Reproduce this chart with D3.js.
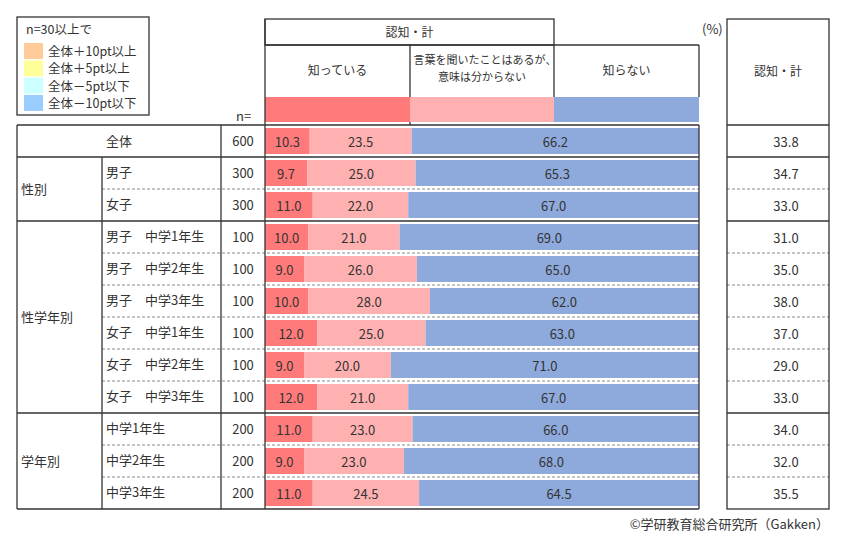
<!DOCTYPE html>
<html>
<head>
<meta charset="utf-8">
<script src="https://cdn.jsdelivr.net/npm/d3@7"></script>
<style>
  body { margin: 0; background: #fff; }
  text { font-family: "Noto Sans CJK JP", "Noto Sans", sans-serif; fill: #333; }
</style>
</head>
<body>
<div id="chart"></div>
<script>
// data
var rowLabels = ["全体", "男子", "女子", "男子　中学1年生", "男子　中学2年生", "男子　中学3年生",
  "女子　中学1年生", "女子　中学2年生", "女子　中学3年生", "中学1年生", "中学2年生", "中学3年生"];
var nValues = [600, 300, 300, 100, 100, 100, 100, 100, 100, 200, 200, 200];
var knowVals = [10.3, 9.7, 11.0, 10.0, 9.0, 10.0, 12.0, 9.0, 12.0, 11.0, 9.0, 11.0];
var heardVals = [23.5, 25.0, 22.0, 21.0, 26.0, 28.0, 25.0, 20.0, 21.0, 23.0, 23.0, 24.5];
var unknownVals = [66.2, 65.3, 67.0, 69.0, 65.0, 62.0, 63.0, 71.0, 67.0, 66.0, 68.0, 64.5];
var totalVals = [33.8, 34.7, 33.0, 31.0, 35.0, 38.0, 37.0, 29.0, 33.0, 34.0, 32.0, 35.5];
var groups = [
  {name: "全体", start: 0, end: 0},
  {name: "性別", start: 1, end: 2},
  {name: "性学年別", start: 3, end: 8},
  {name: "学年別", start: 9, end: 11}
];
var seriesNames = ["知っている", "言葉を聞いたことはあるが、\n意味は分からない", "知らない"];
var legendLabels = ["全体＋10pt以上", "全体＋5pt以上", "全体－5pt以下", "全体－10pt以下"];
var legendColors = ["#ffcc99", "#ffff99", "#ccffff", "#99ccff"];
var colors = ["#ff7b7b", "#ffb1b1", "#8eaadc"];

var svg = d3.select("#chart").append("svg")
  .attr("width", 857)
  .attr("height", 538);

var x = d3.scaleLinear().domain([0, 100]).range([265, 699]);
var y = d3.scaleBand().domain(d3.range(rowLabels.length)).range([125, 509]);
var bh = y.bandwidth();

var lineColor = "#333";
var dashColor = "#8a8a8a";

function hline(x1, x2, yy, dashed) {
  svg.append("line")
    .attr("x1", x1).attr("x2", x2).attr("y1", yy).attr("y2", yy)
    .attr("stroke", dashed ? dashColor : lineColor)
    .attr("stroke-width", dashed ? 1 : 1.3)
    .attr("stroke-dasharray", dashed ? "3,2" : null);
}
function vline(xx, y1, y2) {
  svg.append("line")
    .attr("x1", xx).attr("x2", xx).attr("y1", y1).attr("y2", y2)
    .attr("stroke", lineColor).attr("stroke-width", 1.3);
}

// legend box
svg.append("rect")
  .attr("x", 17).attr("y", 17).attr("width", 132).attr("height", 98)
  .attr("fill", "none").attr("stroke", lineColor).attr("stroke-width", 1.3);
svg.append("text").attr("x", 26).attr("y", 34).attr("font-size", 12.5).text("n=30以上で");
legendLabels.forEach(function(d, i) {
  svg.append("rect")
    .attr("x", 24).attr("y", 43 + i * 17.3).attr("width", 19).attr("height", 16)
    .attr("fill", legendColors[i]);
  svg.append("text")
    .attr("x", 48).attr("y", 56 + i * 17.3).attr("font-size", 12.5).text(d);
});

// header
var headerEdges = [265, 410, 554, 699];
svg.append("rect")
  .attr("x", 265).attr("y", 19).attr("width", 289).attr("height", 26)
  .attr("fill", "none").attr("stroke", lineColor).attr("stroke-width", 1.3);
svg.append("text").attr("x", 409.5).attr("y", 37).attr("text-anchor", "middle")
  .attr("font-size", 12).text("認知・計");
hline(265, 699, 45);
vline(699, 45, 97);
vline(410, 45, 125);
vline(554, 45, 122);

seriesNames.forEach(function(name, i) {
  var cx = (headerEdges[i] + headerEdges[i + 1]) / 2;
  var lines = name.split("\n");
  var t = svg.append("text").attr("text-anchor", "middle")
    .attr("font-size", lines.length > 1 ? 11 : 12);
  lines.forEach(function(l, j) {
    t.append("tspan").attr("x", cx + (lines.length > 1 && j === 0 ? 3 : 0))
      .attr("y", lines.length > 1 ? 64 + j * 17 : 75)
      .text(l);
  });
  svg.append("rect")
    .attr("x", headerEdges[i]).attr("y", 97)
    .attr("width", headerEdges[i + 1] - headerEdges[i]).attr("height", 25)
    .attr("fill", colors[i]);
});

svg.append("text").attr("x", 236).attr("y", 121).attr("font-size", 13).text("n=");
svg.append("text").attr("x", 702).attr("y", 34).attr("font-size", 13).text("(%)");

// bars
var rows = rowLabels.map(function(label, i) {
  return {label: label, n: nValues[i], vals: [knowVals[i], heardVals[i], unknownVals[i]], total: totalVals[i]};
});

rows.forEach(function(r, i) {
  var cum = 0;
  r.vals.forEach(function(v, k) {
    var x0 = x(cum), x1 = x(cum + v);
    svg.append("rect")
      .attr("x", x0).attr("y", y(i) + 3)
      .attr("width", x1 - x0).attr("height", bh - 6)
      .attr("fill", colors[k]);
    svg.append("text")
      .attr("x", (x0 + x1) / 2).attr("y", y(i) + bh / 2 + 6)
      .attr("text-anchor", "middle").attr("font-size", 13)
      .text(v.toFixed(1));
    cum += v;
  });
  // n and row label
  svg.append("text")
    .attr("x", 243).attr("y", y(i) + bh / 2 + 5)
    .attr("text-anchor", "middle").attr("font-size", 13)
    .text(r.n);
  svg.append("text")
    .attr("x", 786).attr("y", y(i) + bh / 2 + 6)
    .attr("text-anchor", "middle").attr("font-size", 13)
    .text(r.total.toFixed(1));
  if (i > 0) {
    svg.append("text")
      .attr("x", 106).attr("y", y(i) + bh / 2 + 4)
      .attr("font-size", 13)
      .text(r.label);
  }
});

// group labels
groups.forEach(function(g) {
  var top = y(g.start), bottom = y(g.end) + bh;
  if (g.start === 0) {
    svg.append("text").attr("x", 119).attr("y", (top + bottom) / 2 + 5)
      .attr("text-anchor", "middle").attr("font-size", 13).text(g.name);
  } else {
    svg.append("text").attr("x", 21).attr("y", (top + bottom) / 2 + 5)
      .attr("font-size", 13).text(g.name);
  }
});

// table lines
var groupStarts = groups.map(function(g) { return g.start; });
hline(17, 699, y(0));
hline(17, 699, 509);
d3.range(1, rowLabels.length).forEach(function(i) {
  if (groupStarts.indexOf(i) >= 0) {
    hline(17, 699, y(i));
    hline(727, 829, y(i));
  } else {
    hline(102, 699, y(i), true);
    hline(727, 829, y(i), true);
  }
});
vline(17, 125, 509);
vline(102, y(1), 509);
vline(221, 125, 509);
vline(265, 19, 509);
vline(699, 125, 509);

// right table
svg.append("rect")
  .attr("x", 727).attr("y", 19).attr("width", 102).attr("height", 490)
  .attr("fill", "none").attr("stroke", lineColor).attr("stroke-width", 1.3);
hline(727, 829, 125);
svg.append("text").attr("x", 778).attr("y", 76).attr("text-anchor", "middle")
  .attr("font-size", 12).text("認知・計");

// credit
svg.append("text").attr("x", 829).attr("y", 529).attr("text-anchor", "end")
  .attr("font-size", 13).text("©学研教育総合研究所（Gakken）");
</script>
</body>
</html>
